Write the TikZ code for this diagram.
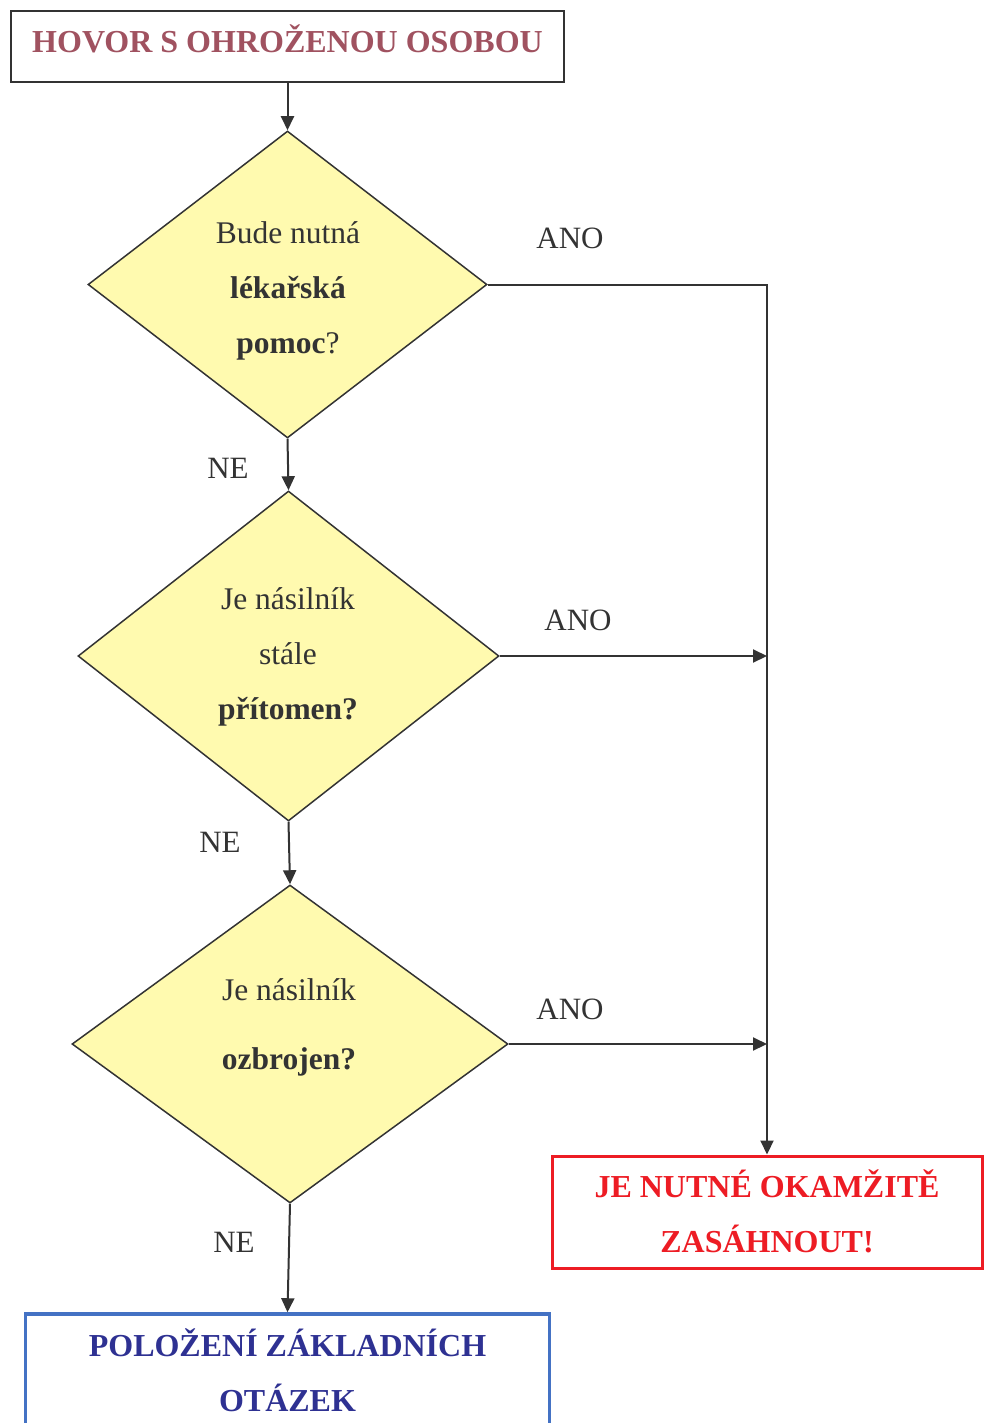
\documentclass[tikz,border=0pt]{standalone}
\usepackage{fontspec}
\setmainfont{Liberation Serif}
\usetikzlibrary{shapes.geometric,arrows.meta}
\definecolor{ink}{RGB}{51,51,51}
\definecolor{rose}{RGB}{160,82,96}
\definecolor{alarm}{RGB}{237,28,36}
\definecolor{navy}{RGB}{46,49,146}
\definecolor{frameblue}{RGB}{68,114,196}
\definecolor{paleyellow}{RGB}{255,250,175}
\tikzset{
  txt/.style={inner sep=0pt, text=ink, font=\fontsize{31.5}{55}\selectfont, align=center},
  lbl/.style={inner sep=0pt, text=ink, font=\fontsize{31}{36}\selectfont},
  decision/.style={diamond, draw=ink, line width=1.5pt, fill=paleyellow, inner sep=0pt},
  conn/.style={draw=ink, line width=2pt, -{Triangle[length=14pt,width=13pt]}},
}
\begin{document}
\begin{tikzpicture}[x=1pt,y=-1pt]
\useasboundingbox (0,0) rectangle (984,1423);
% start box
\node[draw=ink, line width=2pt, minimum width=553pt, minimum height=71pt, inner sep=0pt] (top) at (287.5,46.5) {};
\node[inner sep=0pt, text=rose, font=\fontsize{32}{40}\selectfont\bfseries] (toptext) at (287.5,39) {HOVOR S OHROŽENOU OSOBOU};
% decisions
\node[decision, minimum width=399pt, minimum height=307pt] (d1) at (287.5,284.5) {};
\node[txt] (d1t) at (288,291) {Bude nutná\\\textbf{lékařská}\\\textbf{pomoc}?};
\node[decision, minimum width=421pt, minimum height=330pt] (d2) at (288.5,656) {};
\node[txt] (d2t) at (288,657) {Je násilník\\stále\\\textbf{přítomen?}};
\node[decision, minimum width=436pt, minimum height=318pt] (d3) at (290,1044) {};
\node[txt] (d3a) at (289,990) {Je násilník};
\node[txt] (d3b) at (289,1062) {\textbf{ozbrojen?}};
% outcome boxes
\node[draw=alarm, line width=3pt, minimum width=430pt, minimum height=112pt, inner sep=0pt] (red) at (767,1212) {};
\node[inner sep=0pt, text=alarm, font=\fontsize{32}{55}\selectfont\bfseries, align=center] (redt) at (767,1211) {JE NUTNÉ OKAMŽITĚ\\ZASÁHNOUT!};
\node[draw=frameblue, line width=3.5pt, minimum width=524pt, minimum height=180pt, inner sep=0pt] (blue) at (287.5,1404) {};
\node[inner sep=0pt, text=navy, font=\fontsize{32}{55}\selectfont\bfseries, align=center] (bluet) at (287.5,1370) {POLOŽENÍ ZÁKLADNÍCH\\OTÁZEK};
% connectors
\draw[conn] (top.south) -- (d1.north);
\draw[conn] (d1.south) -- (d2.north);
\draw[conn] (d2.south) -- (d3.north);
\draw[conn] (d3.south) -- (blue.north);
\draw[conn] (d1.east) -| (red.north);
\draw[conn] (d2.east) -- (d2.east -| red.north);
\draw[conn] (d3.east) -- (d3.east -| red.north);
% labels
\node[lbl] (ano1) at (570,238) {ANO};
\node[lbl] (ano2) at (578,620) {ANO};
\node[lbl] (ano3) at (570,1009) {ANO};
\node[lbl] (ne1) at (228,468) {NE};
\node[lbl] (ne2) at (220,842) {NE};
\node[lbl] (ne3) at (234,1242) {NE};
\end{tikzpicture}
\end{document}
